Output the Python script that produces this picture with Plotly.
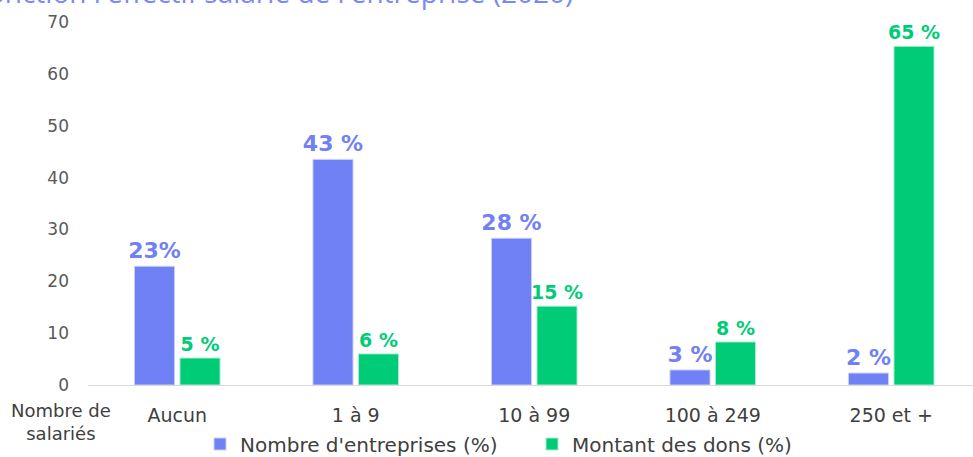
import plotly.graph_objects as go

categories = ["Aucun", "1 à 9", "10 à 99", "100 à 249", "250 et +"]
entreprises = [22.9, 43.5, 28.3, 2.9, 2.3]
entreprises_labels = ["23%", "43 %", "28 %", "3 %", "2 %"]
dons = [5.2, 6.0, 15.2, 8.3, 65.3]
dons_labels = ["5 %", "6 %", "15 %", "8 %", "65 %"]
y_ticks = [0, 10, 20, 30, 40, 50, 60, 70]

BLUE = "#7080F5"
GREEN = "#00CC77"
FONT = "DejaVu Sans"

fig = go.Figure()
fig.add_trace(go.Bar(
    x=categories, y=entreprises, name="Nombre d'entreprises (%)",
    marker=dict(color=BLUE, line=dict(color="#c9cffb", width=1)),
    text=entreprises_labels, textposition="outside", cliponaxis=False,
    constraintext="none",
    textfont=dict(family=FONT, size=22, color=BLUE, weight="bold"),
))
fig.add_trace(go.Bar(
    x=categories, y=dons, name="Montant des dons (%)",
    marker=dict(color=GREEN, line=dict(color="#a8eccf", width=1)),
    text=dons_labels, textposition="outside", cliponaxis=False,
    constraintext="none",
    textfont=dict(family=FONT, size=19, color=GREEN, weight="bold"),
))

fig.update_layout(
    width=973, height=457,
    margin=dict(l=88, r=0, t=22, b=72, autoexpand=False),
    paper_bgcolor="white", plot_bgcolor="white",
    barmode="group", bargap=0.49, bargroupgap=0.12,
    font=dict(family=FONT, color="#404040"),
    showlegend=True,
    legend=dict(orientation="h", xref="container", yref="container",
                x=200 / 973, xanchor="left", y=1 - 444 / 457, yanchor="middle",
                font=dict(family=FONT, size=20, color="#404040"),
                entrywidth=287, entrywidthmode="pixels",
                itemwidth=30, tracegroupgap=0, traceorder="normal"),
    xaxis=dict(range=[-0.5, 4.458], showline=True, linecolor="#d9d9d9", linewidth=1,
               ticks="", tickfont=dict(family=FONT, size=19, color="#404040"),
               ticklabelstandoff=13, fixedrange=True, automargin=False),
    yaxis=dict(range=[0, 70], tickvals=y_ticks, showgrid=False, zeroline=False,
               showline=False, ticks="", tickfont=dict(family=FONT, size=17, color="#595959"),
               ticklabelstandoff=18, fixedrange=True, automargin=False),
    annotations=[
        dict(text="Répartition des entreprises mécènes et du montant des dons en fonction l'effectif salarié de l'entreprise (2020)",
             xref="paper", yref="paper", x=(575 - 88) / 885, y=1 + (22 - 13) / 363,
             xanchor="right", yanchor="bottom", showarrow=False,
             font=dict(family="Open Sans", size=28, color="#7B88F7")),
        dict(text="Nombre de<br>salariés", xref="paper", yref="paper",
             x=(61 - 88) / 885, y=-(413 - 385 - 15) / 363, xanchor="center", yanchor="top",
             showarrow=False, align="center",
             font=dict(family=FONT, size=18, color="#404040")),
    ],
)

fig.write_html("out.html", config={"displayModeBar": False},
               post_script="document.body.style.margin='0';document.body.style.overflow='hidden';")
